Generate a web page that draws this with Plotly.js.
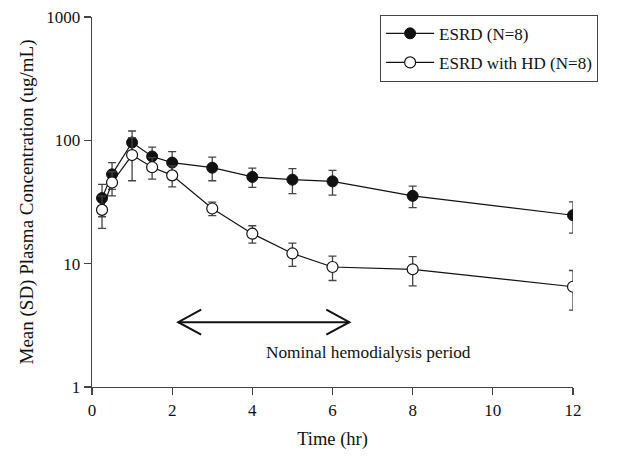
<!DOCTYPE html>
<html>
<head>
<meta charset="utf-8">
<script src="https://cdn.plot.ly/plotly-3.0.1.min.js"></script>
<style>html,body{margin:0;padding:0;background:#fff;}#chart{width:617px;height:458px;}</style>
</head>
<body>
<div id="chart"></div>
<script>
// Time points (hr)
const timeHr = [0.25, 0.5, 1, 1.5, 2, 3, 4, 5, 6, 8, 12];
// ESRD (N=8) mean and SD (ug/mL)
const esrdMean = [34, 53, 96, 74, 66, 60, 50.5, 48, 46.5, 35.5, 24.7];
const esrdSD   = [10, 13, 23, 14, 15, 13, 9, 11, 10.5, 7, 7];
// ESRD with HD (N=8) mean and SD (ug/mL)
const hdMean = [27.3, 45.5, 76, 60.5, 52, 28, 17.5, 12.1, 9.4, 9.0, 6.5];
const hdSD   = [8, 10, 29, 12, 10, 3.5, 2.8, 2.6, 2.1, 2.4, 2.3];
// Axis ticks
const xTicks = [0, 2, 4, 6, 8, 10, 12];
const yTicks = [1, 10, 100, 1000];
// Hemodialysis period arrow (hr) and level (ug/mL)
const hdStart = 2.15, hdEnd = 6.42, arrowLevel = 3.35;
const hdLabel = "Nominal hemodialysis period";
const labelX = 6.9, labelLevel = 1.9;

const serif = "Liberation Serif, Times New Roman, serif";
const yMinLog = 0, yMaxLog = 3;

const traces = [
  {
    x: timeHr, y: esrdMean, name: "ESRD (N=8)", type: "scatter", mode: "lines+markers",
    legendgroup: "a",
    line: {color: "#111", width: 1.2},
    marker: {symbol: "circle", size: 11, color: "#111", line: {color: "#111", width: 1}},
    error_y: {type: "data", array: esrdSD, visible: true, color: "#444", thickness: 1.3, width: 4}
  },
  {
    x: timeHr, y: hdMean, name: "ESRD with HD (N=8)", type: "scatter", mode: "lines+markers",
    legendgroup: "b",
    line: {color: "#111", width: 1.2},
    marker: {symbol: "circle", size: 11, color: "#fff", line: {color: "#111", width: 1.2}},
    error_y: {type: "data", array: hdSD, visible: true, color: "#444", thickness: 1.3, width: 4}
  }
];

// paper fraction for levels on the log axis
const arrowPaperY = (Math.log10(arrowLevel) - yMinLog) / (yMaxLog - yMinLog);
const labelPaperY = (Math.log10(labelLevel) - yMinLog) / (yMaxLog - yMinLog);

const layout = {
  width: 617, height: 458,
  margin: {l: 92, r: 44, t: 17, b: 70.5, pad: 0},
  paper_bgcolor: "#fff", plot_bgcolor: "#fff",
  font: {family: serif, color: "#111", size: 16},
  showlegend: true,
  legend: {
    x: 0.599, y: 1.006, xanchor: "left", yanchor: "top",
    bordercolor: "#444", borderwidth: 1, bgcolor: "#fff",
    font: {family: serif, size: 17, color: "#111"},
    tracegroupgap: 4, itemwidth: 48, entrywidth: 231, entrywidthmode: "pixels"
  },
  xaxis: {
    range: [0, 12], tickvals: xTicks, ticktext: xTicks.map(String),
    showline: true, linecolor: "#444", linewidth: 1.3, mirror: false,
    ticks: "outside", ticklen: 7, tickwidth: 1.3, tickcolor: "#444",
    showgrid: false, zeroline: false,
    tickfont: {family: serif, size: 17, color: "#111"},
    title: {text: "Time (hr)", font: {family: serif, size: 18.5, color: "#111"}, standoff: 13}
  },
  yaxis: {
    type: "log", range: [yMinLog, yMaxLog], tickvals: yTicks, ticktext: yTicks.map(String),
    showline: true, linecolor: "#444", linewidth: 1.3, mirror: false,
    ticks: "outside", ticklen: 7, tickwidth: 1.3, tickcolor: "#444",
    showgrid: false, zeroline: false,
    tickfont: {family: serif, size: 17, color: "#111"},
    title: {text: "Mean (SD) Plasma Concentration (ug/mL)", font: {family: serif, size: 19, color: "#111"}, standoff: 7}
  },
  shapes: [
    {type: "line", xref: "x", yref: "paper", x0: hdStart, x1: hdEnd, y0: arrowPaperY, y1: arrowPaperY,
     line: {color: "#111", width: 2}},
    {type: "path", xref: "x", yref: "paper", xsizemode: "pixel", ysizemode: "pixel",
     xanchor: hdStart, yanchor: arrowPaperY, path: "M 23,12.5 L 0,0 L 23,-12.5",
     line: {color: "#111", width: 2}},
    {type: "path", xref: "x", yref: "paper", xsizemode: "pixel", ysizemode: "pixel",
     xanchor: hdEnd, yanchor: arrowPaperY, path: "M -23,12.5 L 0,0 L -23,-12.5",
     line: {color: "#111", width: 2}}
  ],
  annotations: [
    {text: hdLabel, xref: "x", yref: "paper", x: labelX, y: labelPaperY, yanchor: "middle", xanchor: "center",
     showarrow: false, font: {family: serif, size: 17.3, color: "#111"}}
  ]
};

Plotly.newPlot("chart", traces, layout, {displayModeBar: false, staticPlot: true});
</script>
</body>
</html>
